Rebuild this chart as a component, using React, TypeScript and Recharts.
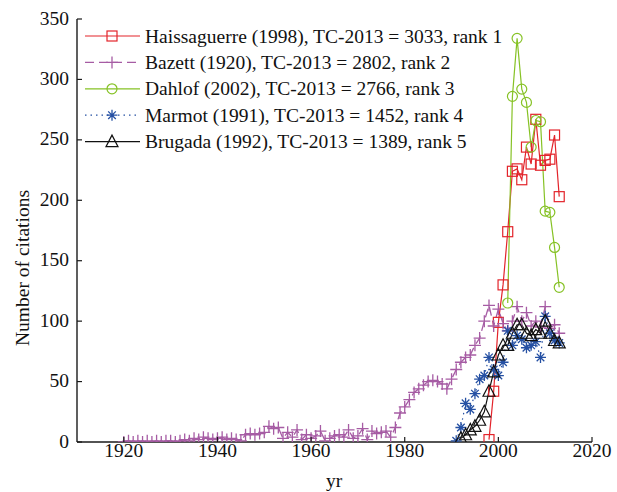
import React from 'react';
import { LineChart, Line, XAxis, YAxis } from 'recharts';

const FONT = '"Liberation Serif", "Times New Roman", serif';
const FS = 19.5;
const AXIS = '#1a1a1a';

const xTicks = [1920, 1940, 1960, 1980, 2000, 2020];
const yTicks = [0, 50, 100, 150, 200, 250, 300, 350];

const RED = '#e3242b';
const PURPLE = '#a65ca4';
const GREEN = '#86c225';
const BLUE = '#2550a3';
const BLACK = '#111111';

const legendLabels = [
  'Haissaguerre (1998), TC-2013 = 3033, rank 1',
  'Bazett (1920), TC-2013 = 2802, rank 2',
  'Dahlof (2002), TC-2013 = 2766, rank 3',
  'Marmot (1991), TC-2013 = 1452, rank 4',
  'Brugada (1992), TC-2013 = 1389, rank 5',
];

const haisStart = 1998;
const haisValues = [2, 42, 99, 130, 174, 224, 226, 217, 244, 230, 267, 229, 233, 234, 254, 203];

const bazettStart = 1920;
const bazettValues = [
  0, 1, 0, 1, 0, 1, 0, 1, 0, 1, 1, 0, 1,
  2, 1, 3, 2, 4, 3, 2, 3, 4, 2, 3, 2, 1,
  6, 7, 6, 7, 8, 13, 11, 12,
  3, 8, 4, 10, 2, 6, 3, 5, 9, 1, 3, 5, 6, 4, 10, 3, 5, 11, 2, 9, 7, 8, 9, 4, 12,
  24, 29, 35, 41, 44, 47, 50, 51, 50, 48, 44, 52, 60, 66, 70, 72, 80, 86, 100, 113,
  96, 110, 98, 92, 100, 112, 100, 107, 96, 100, 95, 112, 94, 97, 90,
];

const dahlofStart = 2002;
const dahlofValues = [115, 286, 334, 292, 281, 244, 266, 265, 191, 190, 161, 128];

const marmotStart = 1991;
const marmotValues = [1, 12, 32, 27, 40, 52, 55, 70, 60, 55, 66, 92, 80, 88, 85, 78, 80, 83, 70, 104, 90, 84, 82];

const brugadaStart = 1992;
const brugadaValues = [3, 6, 10, 13, 18, 25, 42, 58, 72, 80, 80, 90, 97, 97, 90, 88, 93, 90, 100, 90, 84, 82];

const toData = (start: number, vals: number[]) => vals.map((v, i) => ({ yr: start + i, v }));

const haisData = toData(haisStart, haisValues);
const bazettData = toData(bazettStart, bazettValues);
const dahlofData = toData(dahlofStart, dahlofValues);
const marmotData = toData(marmotStart, marmotValues);
const brugadaData = toData(brugadaStart, brugadaValues);

type MarkerKind = 'square' | 'plus' | 'circle' | 'star' | 'triangle';

const Marker = ({ kind, cx, cy, color }: { kind: MarkerKind; cx: number; cy: number; color: string }) => {
  const sw = 1.2;
  if (kind === 'square') {
    return <rect x={cx - 5} y={cy - 5} width={10} height={10} fill="none" stroke={color} strokeWidth={sw} />;
  }
  if (kind === 'plus') {
    return <path d={`M${cx - 6},${cy}H${cx + 6}M${cx},${cy - 6}V${cy + 6}`} stroke={color} strokeWidth={1.3} fill="none" />;
  }
  if (kind === 'circle') {
    return <circle cx={cx} cy={cy} r={5} fill="none" stroke={color} strokeWidth={sw} />;
  }
  if (kind === 'star') {
    const d = 3.8;
    return (
      <path
        d={`M${cx - 5.5},${cy}H${cx + 5.5}M${cx},${cy - 5.5}V${cy + 5.5}M${cx - d},${cy - d}L${cx + d},${cy + d}M${cx - d},${cy + d}L${cx + d},${cy - d}`}
        stroke={color}
        strokeWidth={1.3}
        fill="none"
      />
    );
  }
  return (
    <polygon
      points={`${cx},${cy - 6.5} ${cx - 6},${cy + 5} ${cx + 6},${cy + 5}`}
      fill="none"
      stroke={color}
      strokeWidth={sw}
    />
  );
};

const makeDot = (kind: MarkerKind, color: string) => (props: any) => {
  const { cx, cy, index } = props;
  if (cx == null || cy == null) return <g key={`d${index}`} />;
  return (
    <g key={`d${kind}${index}`}>
      <Marker kind={kind} cx={cx} cy={cy} color={color} />
    </g>
  );
};

const BottomTick = (props: any) => {
  const { x, y, payload } = props;
  return (
    <g>
      <line x1={x} y1={y} x2={x} y2={y - 5} stroke={AXIS} strokeWidth={1.2} />
      <text x={x} y={y + 15} textAnchor="middle" style={{ fontFamily: FONT }} fontSize={FS} fill="#111">
        {payload.value}
      </text>
    </g>
  );
};

const TopTick = (props: any) => {
  const { x, y } = props;
  return <line x1={x} y1={y} x2={x} y2={y + 5} stroke={AXIS} strokeWidth={1.2} />;
};

const LeftTick = (props: any) => {
  const { x, y, payload } = props;
  return (
    <g>
      <line x1={x} y1={y} x2={x + 5} y2={y} stroke={AXIS} strokeWidth={1.2} />
      <text x={x - 8} y={y + 5.5} textAnchor="end" style={{ fontFamily: FONT }} fontSize={FS} fill="#111">
        {payload.value}
      </text>
    </g>
  );
};

const RightTick = (props: any) => {
  const { x, y } = props;
  return <line x1={x} y1={y} x2={x - 5} y2={y} stroke={AXIS} strokeWidth={1.2} />;
};

const legendItems: { color: string; kind: MarkerKind; dash?: string }[] = [
  { color: RED, kind: 'square' },
  { color: PURPLE, kind: 'plus', dash: '9 5' },
  { color: GREEN, kind: 'circle' },
  { color: BLUE, kind: 'star', dash: '1.5 4' },
  { color: BLACK, kind: 'triangle' },
];

export default function App() {
  return (
    <div style={{ position: 'absolute', left: 0, top: 0, width: 617, height: 492, background: '#fff', fontFamily: FONT }}>
      <LineChart width={617} height={492} margin={{ top: 19, right: 25, bottom: 0, left: 0 }}>
        <XAxis
          dataKey="yr"
          type="number"
          domain={[1910, 2020]}
          ticks={xTicks}
          interval={0}
          allowDataOverflow
          height={50}
          tickSize={0}
          tickMargin={0}
          tickLine={false}
          tick={BottomTick}
          axisLine={{ stroke: AXIS, strokeWidth: 1.4 }}
        />
        <XAxis
          xAxisId="top"
          orientation="top"
          dataKey="yr"
          type="number"
          domain={[1910, 2020]}
          ticks={xTicks}
          interval={0}
          allowDataOverflow
          height={0}
          tickSize={0}
          tickMargin={0}
          tickLine={false}
          tick={TopTick}
          axisLine={{ stroke: AXIS, strokeWidth: 1.4 }}
        />
        <YAxis
          type="number"
          domain={[0, 350]}
          ticks={yTicks}
          interval={0}
          allowDataOverflow
          width={77}
          tickSize={0}
          tickMargin={0}
          tickLine={false}
          tick={LeftTick}
          axisLine={{ stroke: AXIS, strokeWidth: 1.4 }}
        />
        <YAxis
          yAxisId="right"
          orientation="right"
          type="number"
          domain={[0, 350]}
          ticks={yTicks}
          interval={0}
          allowDataOverflow
          width={0}
          tickSize={0}
          tickMargin={0}
          tickLine={false}
          tick={RightTick}
          axisLine={{ stroke: AXIS, strokeWidth: 1.4 }}
        />
        <Line
          data={haisData}
          dataKey="v"
          stroke={RED}
          strokeWidth={1.2}
          dot={makeDot('square', RED)}
          isAnimationActive={false}
        />
        <Line
          data={bazettData}
          dataKey="v"
          stroke={PURPLE}
          strokeWidth={1.3}
          strokeDasharray="9 5"
          dot={makeDot('plus', PURPLE)}
          isAnimationActive={false}
        />
        <Line
          data={dahlofData}
          dataKey="v"
          stroke={GREEN}
          strokeWidth={1.2}
          dot={makeDot('circle', GREEN)}
          isAnimationActive={false}
        />
        <Line
          data={marmotData}
          dataKey="v"
          stroke={BLUE}
          strokeWidth={1.2}
          strokeDasharray="1.5 4"
          dot={makeDot('star', BLUE)}
          isAnimationActive={false}
        />
        <Line
          data={brugadaData}
          dataKey="v"
          stroke={BLACK}
          strokeWidth={1.2}
          dot={makeDot('triangle', BLACK)}
          isAnimationActive={false}
        />
      </LineChart>
      <svg
        width={617}
        height={492}
        style={{ position: 'absolute', left: 0, top: 0, pointerEvents: 'none' }}
      >
        {legendItems.map((it, i) => {
          const cy = 36 + i * 26.4;
          return (
            <g key={i}>
              <line x1={85} y1={cy} x2={140} y2={cy} stroke={it.color} strokeWidth={1.2} strokeDasharray={it.dash} />
              <Marker kind={it.kind} cx={112} cy={cy} color={it.color} />
              <text x={145} y={cy + 6.5} style={{ fontFamily: FONT }} fontSize={FS} fill="#111">
                {legendLabels[i]}
              </text>
            </g>
          );
        })}
        <text
          x={29}
          y={268}
          transform="rotate(-90 29 268)"
          textAnchor="middle"
          style={{ fontFamily: FONT }}
          fontSize={FS}
          fill="#111"
        >
          Number of citations
        </text>
        <text x={334} y={487} textAnchor="middle" style={{ fontFamily: FONT }} fontSize={FS} fill="#111">
          yr
        </text>
      </svg>
    </div>
  );
}
